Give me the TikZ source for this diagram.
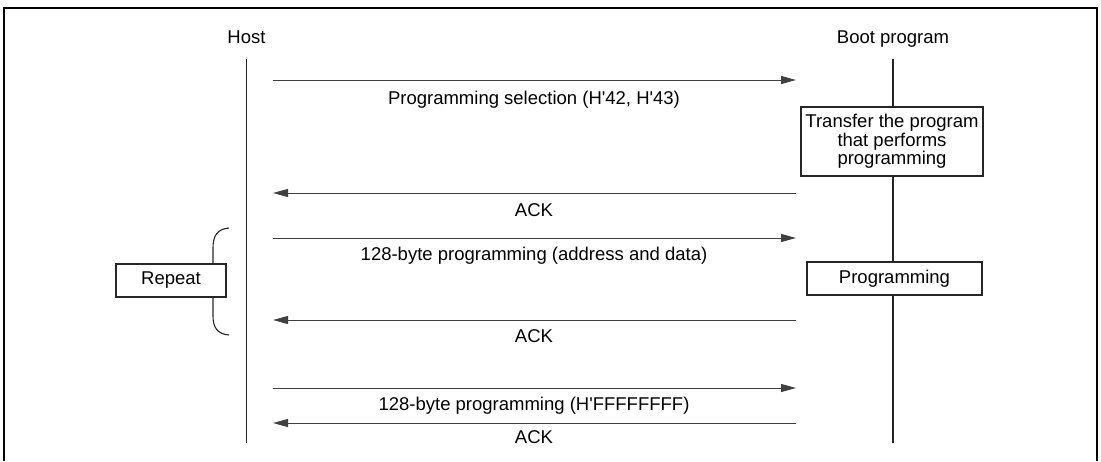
\documentclass[tikz,border=0pt]{standalone}
\usepackage{fontspec}
\newfontfamily\lsans{Liberation Sans}
\usetikzlibrary{arrows.meta}
\begin{document}
\begin{tikzpicture}[x=1pt,y=-1pt,
  every node/.style={font=\lsans\fontsize{18.5}{18.5}\selectfont, inner sep=0pt},
  lbl/.style={anchor=base},
  life/.style={line width=1.3pt, black!85},
  msg/.style={line width=1pt, black!75, -{Triangle[length=15pt,width=8pt]}},
  procbox/.style={draw=black!85, line width=1.2pt, fill=white, align=center},
  frame/.style={line width=2pt, black}]
\useasboundingbox (0,0) rectangle (1101,461);
\draw[frame] (3.5,461) -- (3.5,7.5) -- (1097,7.5) -- (1097,461);
% headings
\node[lbl] (host) at (246.5,43) {Host};
\node[lbl] (boot) at (893,43) {Boot program};
% lifelines
\coordinate (htop) at (246.5,59);
\coordinate (hbot) at (246.5,443);
\coordinate (btop) at (893,59);
\coordinate (bbot) at (893,443);
\draw[life] (htop) -- (hbot);
\draw[life] (btop) -- (bbot);
% boxes on boot lifeline
\node[procbox, minimum width=182, minimum height=69] (transfer) at (892,141.5)
  {Transfer the program\\that performs\\programming};
\node[procbox, minimum width=175, minimum height=33] (prog) at (894.5,278.5) {Programming};
% messages
\foreach \i/\y in {1/80,2/193,3/238,4/320,5/388,6/423}{
  \coordinate (h\i) at (273,\y);
  \coordinate (b\i) at (796,\y);
}
\draw[msg] (h1) -- (b1);
\draw[msg] (b2) -- (h2);
\draw[msg] (h3) -- (b3);
\draw[msg] (b4) -- (h4);
\draw[msg] (h5) -- (b5);
\draw[msg] (b6) -- (h6);
% labels
\node[lbl] (l1) at (534,104) {Programming selection (H'42, H'43)};
\node[lbl] (l2) at (534,216) {ACK};
\node[lbl] (l3) at (534,260) {128-byte programming (address and data)};
\node[lbl] (l4) at (534,342) {ACK};
\node[lbl] (l5) at (534,410) {128-byte programming (H'FFFFFFFF)};
\node[lbl] (l6) at (534,443) {ACK};
% repeat brace
\coordinate (brtop) at (229,228);
\coordinate (brbot) at (229,335);
\draw[line width=1.1pt, black!85] (brtop) .. controls (217,229) and (213,236) .. (213,248)
  -- (213,316) .. controls (213,327) and (217,334) .. (brbot);
\node[procbox, minimum width=110, minimum height=33] (repeat) at (171,280.5) {Repeat};
\end{tikzpicture}
\end{document}
